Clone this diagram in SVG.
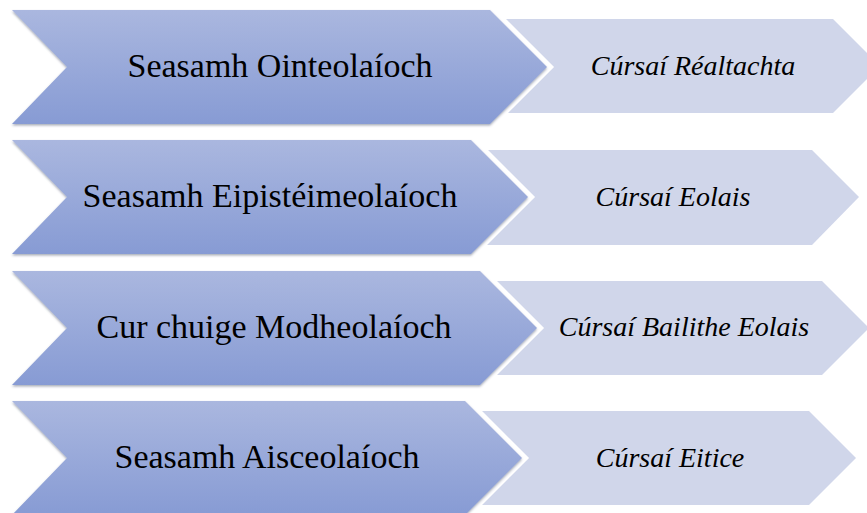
<svg xmlns="http://www.w3.org/2000/svg" width="867" height="513" viewBox="0 0 867 513">
  <defs>
    <linearGradient id="gradMain" x1="0" y1="0" x2="0" y2="1">
      <stop offset="0" stop-color="#aab7df"/>
      <stop offset="1" stop-color="#879bd4"/>
    </linearGradient>
    <filter id="shadow" x="-5%" y="-10%" width="110%" height="125%">
      <feDropShadow dx="0" dy="1.5" stdDeviation="1" flood-color="#3a4460" flood-opacity="0.45"/>
    </filter>
  </defs>
  <style>
    .sub { fill: #d0d6ea; }
    .halo { fill: none; stroke: #ffffff; stroke-width: 10; stroke-linejoin: miter; }
    .main { fill: url(#gradMain); filter: url(#shadow); }
    .mainText { font-size: 34px; fill: #000000; text-anchor: middle; }
    .subText { font-style: italic; font-size: 28px; fill: #000000; text-anchor: middle; }
  </style>

  <!-- Row 1 -->
  <g id="row1-detail">
    <polygon class="sub" points="506,19 833,19 880,66 833,113 506,113"/>
    <text class="subText" font-family="Liberation Serif, Times New Roman, serif" x="693" y="75">Cúrsaí Réaltachta</text>
  </g>
  <g id="row1-main">
    <polygon class="halo" points="12,10 490,10 547,67 490,124 12,124 67,67"/>
    <polygon class="main" points="12,10 490,10 547,67 490,124 12,124 67,67"/>
    <text class="mainText" font-family="Liberation Serif, Times New Roman, serif" x="280" y="77">Seasamh Ointeolaíoch</text>
  </g>

  <!-- Row 2 -->
  <g id="row2-detail">
    <polygon class="sub" points="487,150 812,150 859,197 812,245 487,245"/>
    <text class="subText" font-family="Liberation Serif, Times New Roman, serif" x="673" y="206">Cúrsaí Eolais</text>
  </g>
  <g id="row2-main">
    <polygon class="halo" points="12,140 471,140 528,197 471,254 12,254 67,197"/>
    <polygon class="main" points="12,140 471,140 528,197 471,254 12,254 67,197"/>
    <text class="mainText" font-family="Liberation Serif, Times New Roman, serif" x="270" y="207">Seasamh Eipistéimeolaíoch</text>
  </g>

  <!-- Row 3 -->
  <g id="row3-detail">
    <polygon class="sub" points="495,281 822,281 869,328 822,375 495,375"/>
    <text class="subText" font-family="Liberation Serif, Times New Roman, serif" x="684" y="336">Cúrsaí Bailithe Eolais</text>
  </g>
  <g id="row3-main">
    <polygon class="halo" points="12,271 480,271 537,328 480,385 12,385 67,328"/>
    <polygon class="main" points="12,271 480,271 537,328 480,385 12,385 67,328"/>
    <text class="mainText" font-family="Liberation Serif, Times New Roman, serif" x="274" y="338">Cur chuige Modheolaíoch</text>
  </g>

  <!-- Row 4 -->
  <g id="row4-detail">
    <polygon class="sub" points="482,411 809,411 856,458 809,505 482,505"/>
    <text class="subText" font-family="Liberation Serif, Times New Roman, serif" x="670" y="467">Cúrsaí Eitice</text>
  </g>
  <g id="row4-main">
    <polygon class="halo" points="12,401 465,401 522,458 465,515 12,515 67,458"/>
    <polygon class="main" points="12,401 465,401 522,458 465,515 12,515 67,458"/>
    <text class="mainText" font-family="Liberation Serif, Times New Roman, serif" x="267" y="468">Seasamh Aisceolaíoch</text>
  </g>

  <!-- no connectors in this layout -->
  <g id="connectors"/>
</svg>
